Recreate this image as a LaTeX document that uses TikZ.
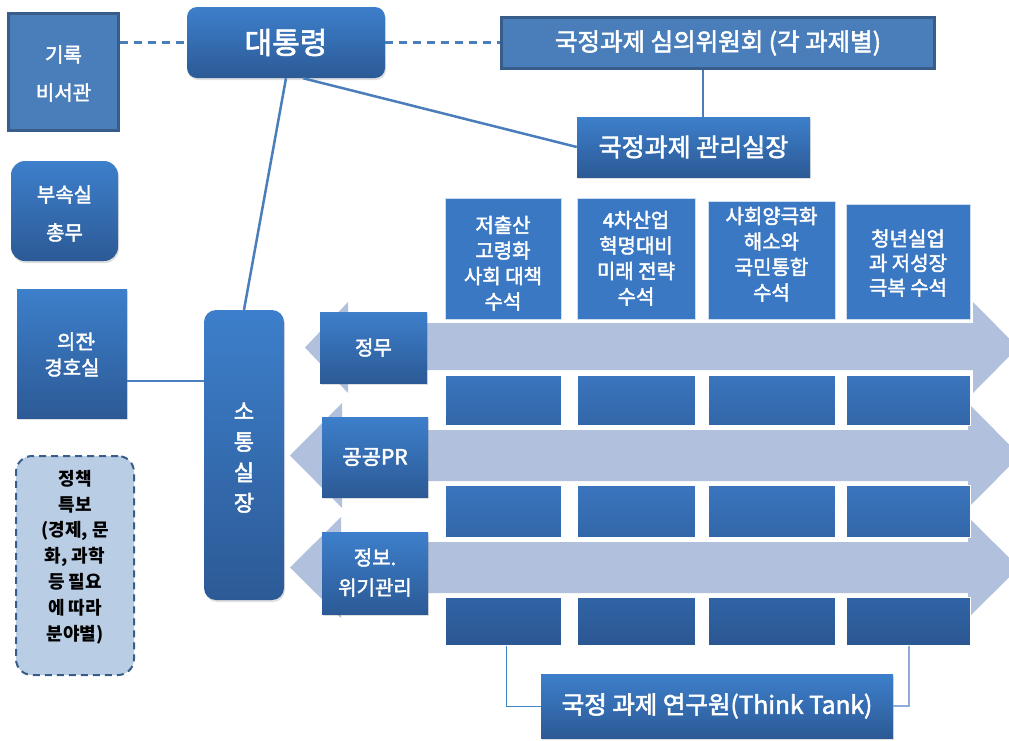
\documentclass[tikz,border=0pt]{standalone}
\usepackage{fontspec}
\setmainfont{Noto Sans CJK KR}
\newfontfamily\wfont{Noto Sans CJK KR}[FakeBold=2.2]
\usetikzlibrary{shadows}
\definecolor{gtop}{HTML}{3D7FCB}
\definecolor{gbot}{HTML}{2C5A96}
\definecolor{flatc}{HTML}{4A7EBB}
\definecolor{edgec}{HTML}{385D8A}
\definecolor{bandc}{HTML}{B1C1DD}
\definecolor{linec}{HTML}{4A7EBB}
\definecolor{palec}{HTML}{B9CDE5}
\definecolor{taskc}{HTML}{3A78C3}
\definecolor{rtop}{HTML}{3B75BE}
\definecolor{rbot}{HTML}{3266A8}
\definecolor{r4top}{HTML}{3064A6}
\definecolor{r4bot}{HTML}{2B5792}
\definecolor{tkline}{HTML}{3D85C6}
\definecolor{tkline2}{HTML}{8FAADC}
\begin{document}
\begin{tikzpicture}[x=1pt,y=-1pt,
  sz/.style 2 args={minimum width=#1pt, minimum height=#2pt},
  th/.style={text height=#1pt, text depth=0pt},
  base/.style={inner sep=0pt, align=center, text=white, font=\wfont\fontsize{20}{25.5}\selectfont},
  grad/.style={base, top color=gtop, bottom color=gbot, draw=none,
    drop shadow={opacity=0.25, shadow xshift=1pt, shadow yshift=-2pt}},
  flatbox/.style={base, fill=flatc, draw=edgec, line width=2.5pt},
  taskbox/.style={base, fill=taskc, draw=white!75!taskc, line width=1pt},
  rowbox/.style={base, top color=rtop, bottom color=rbot, draw=white, line width=1pt},
  rowboxd/.style={base, top color=r4top, bottom color=r4bot, draw=white, line width=1pt},
  conn/.style={draw=linec, line width=2.5pt},
  dashconn/.style={draw=linec, line width=2.5pt, dash pattern=on 8pt off 6pt},
  tkconn/.style={draw=tkline, line width=1pt},
]
\path[use as bounding box] (0,0) rectangle (1009,740);
\clip (0,0) rectangle (1009,740);

% big arrows
\fill[bandc] (305,347.5) -- (348,302) -- (348,323) -- (973,323) -- (973,302) -- (1018,347.5)
  -- (973,393) -- (973,370) -- (348,370) -- (348,393) -- cycle;
\fill[bandc] (290,455.5) -- (342,403) -- (342,430) -- (968,430) -- (968,403) -- (1020,455.5)
  -- (968,508) -- (968,481) -- (342,481) -- (342,508) -- cycle;
\fill[bandc] (290,567.5) -- (341,517) -- (341,542) -- (968,542) -- (968,517) -- (1019,567.5)
  -- (968,618) -- (968,593) -- (341,593) -- (341,618) -- cycle;

% top nodes
\node[flatbox, sz={110}{117}, th=56, font=\wfont\fontsize{20}{38}\selectfont] (rec) at (63.5,72) {기록\\비서관};
\node[grad, sz={198}{71}, rounded corners=10pt, font=\wfont\fontsize{30}{34}\selectfont] (pres) at (286,42.5) {대통령};
\node[flatbox, sz={433}{51}, font=\wfont\fontsize{24.5}{28}\selectfont] (comm) at (718,43) {국정과제 심의위원회 (각 과제별)};
\node[grad, sz={233}{60}, font=\wfont\fontsize{25}{28}\selectfont] (mgr) at (693.5,147) {국정과제 관리실장};

% left column
\node[grad, sz={107}{100}, rounded corners=14pt, th=58, font=\wfont\fontsize{20}{38}\selectfont] (bus) at (64.5,211) {부속실\\총무};
\node[grad, sz={110}{129}, th=43, font=\wfont\fontsize{20}{26}\selectfont] (guard) at (72,353.5) {\kern0.3em의전\kern-0.3em·\kern-0.3em\\경호실};
\node[grad, sz={80}{290}, rounded corners=12pt, th=112, font=\wfont\fontsize{22}{30.5}\selectfont] (sot) at (244,455) {소\\통\\실\\장};
\node[base, sz={118}{219}, rounded corners=16pt, fill=palec, draw=edgec, line width=2pt,
  dash pattern=on 7pt off 5pt, text=black, th=149, font=\bfseries\fontsize{18}{25.8}\selectfont] (pol) at (75,565.5)
  {정책\\특보\\(경제, 문\\화, 과학\\등 필요\\에 따라\\분야별)};

% task boxes
\node[taskbox, sz={116}{121}, th=101] (t1) at (503,258.5) {저출산\\고령화\\사회 대책\\수석};
\node[taskbox, sz={118}{121}, th=91] (t2) at (636,258.5) {4차산업\\혁명대비\\미래 전략\\수석};
\node[taskbox, sz={127}{118}, th=80] (t3) at (771.5,260) {사회양극화\\해소와\\국민통합\\수석};
\node[taskbox, sz={124}{115}, th=67, font=\wfont\fontsize{20}{24.5}\selectfont] (t4) at (908,261.5) {청년실업\\과 저성장\\극복 수석};

\node[rowbox, sz={116}{50}] (r21) at (503,400) {};
\node[rowbox, sz={118}{50}] (r22) at (636,400) {};
\node[rowbox, sz={127}{50}] (r23) at (771.5,400) {};
\node[rowbox, sz={124}{50}] (r24) at (908,400) {};
\node[rowbox, sz={116}{52}] (r31) at (503,511) {};
\node[rowbox, sz={118}{52}] (r32) at (636,511) {};
\node[rowbox, sz={127}{52}] (r33) at (771.5,511) {};
\node[rowbox, sz={124}{52}] (r34) at (908,511) {};
\node[rowboxd, sz={116}{48}] (r41) at (503,621) {};
\node[rowboxd, sz={118}{48}] (r42) at (636,621) {};
\node[rowboxd, sz={127}{48}] (r43) at (771.5,621) {};
\node[rowboxd, sz={124}{48}] (r44) at (908,621) {};

% arrow labels
\node[grad, sz={107}{71}] (jm) at (373.5,347.5) {정무};
\node[grad, sz={106}{80}, font=\wfont\fontsize{21}{25}\selectfont] (pr) at (375,457) {공공PR};
\node[grad, sz={106}{82}, th=44, font=\wfont\fontsize{20}{30}\selectfont] (info) at (375,573) {정보.\\위기관리};

% think tank
\node[grad, sz={352}{64}, font=\wfont\fontsize{24.5}{28}\selectfont] (tt) at (717,706) {국정 과제 연구원(Think Tank)};

% connectors
\draw[dashconn] (rec.east |- pres.west) -- (pres.west);
\draw[dashconn] (pres.east) -- (pres.east -| comm.west);
\draw[draw=linec, line width=2pt] ([xshift=9.5pt]mgr.north) -- ([xshift=9.5pt]mgr.north |- comm.south);
\draw[conn] ([xshift=17pt]pres.south) -- (mgr.west);
\draw[conn] (pres.south) -- (sot.north);
\draw[conn] ([yshift=-27.5pt]guard.east) -- ([yshift=-27.5pt]guard.east -| sot.west);
\draw[tkconn] ([xshift=3.5pt]r41.south) |- (tt.west);
\draw[draw=tkline2, line width=1.2pt] ([xshift=1pt]r44.south) |- (tt.east);
\end{tikzpicture}
\end{document}
